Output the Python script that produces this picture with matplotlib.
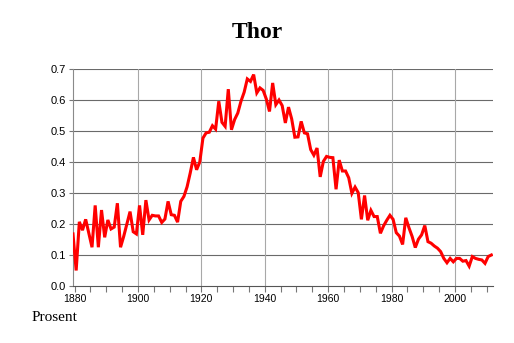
import numpy as np
import matplotlib
matplotlib.use("Agg")
import matplotlib.pyplot as plt
from matplotlib.ticker import MultipleLocator

# Share of name bearers per year (percent)
years = np.arange(1879, 2012)
share = [
    0.168, 0.050, 0.207, 0.180, 0.215, 0.170, 0.125, 0.260, 0.125, 0.245,
    0.157, 0.213, 0.184, 0.190, 0.267, 0.125, 0.160, 0.200, 0.240, 0.175,
    0.168, 0.260, 0.165, 0.277, 0.213, 0.228, 0.226, 0.226, 0.205, 0.216,
    0.273, 0.230, 0.228, 0.206, 0.273, 0.289, 0.320, 0.365, 0.415, 0.375,
    0.400, 0.477, 0.494, 0.496, 0.517, 0.506, 0.596, 0.528, 0.515, 0.635,
    0.504, 0.537, 0.558, 0.596, 0.625, 0.668, 0.660, 0.682, 0.623, 0.639,
    0.631, 0.603, 0.563, 0.655, 0.585, 0.600, 0.582, 0.526, 0.577, 0.539,
    0.480, 0.481, 0.531, 0.494, 0.491, 0.440, 0.422, 0.445, 0.352, 0.402,
    0.418, 0.415, 0.414, 0.312, 0.406, 0.371, 0.371, 0.349, 0.299, 0.319,
    0.301, 0.215, 0.292, 0.212, 0.244, 0.224, 0.224, 0.170, 0.194, 0.212,
    0.228, 0.215, 0.172, 0.161, 0.134, 0.220, 0.188, 0.160, 0.124, 0.151,
    0.165, 0.195, 0.143, 0.138, 0.129, 0.122, 0.111, 0.089, 0.075, 0.089,
    0.078, 0.089, 0.089, 0.080, 0.082, 0.064, 0.095, 0.089, 0.086, 0.084,
    0.073, 0.095, 0.100,
]
x_ticks = [1880, 1900, 1920, 1940, 1960, 1980, 2000]
y_ticks = [0.0, 0.1, 0.2, 0.3, 0.4, 0.5, 0.6, 0.7]

fig = plt.figure(figsize=(5.14, 3.43), dpi=100)
ax = fig.add_axes([0.1414, 0.1662, 0.8176, 0.6326])

# yearly values sit in the middle of each year
ax.plot(years + 0.5, share, color="#ff0000", lw=2.2, solid_joinstyle="miter", zorder=3)

ax.set_xlim(1879.4, 2012)
ax.set_ylim(0, 0.7)
ax.set_xticks(x_ticks)
ax.xaxis.set_minor_locator(MultipleLocator(5))
ax.set_yticks(y_ticks)
ax.set_yticklabels([f"{v:.1f}" for v in y_ticks])

for v in y_ticks[1:]:
    ax.axhline(v, color="#6a6a6a", lw=0.8, zorder=1)
for v in x_ticks[1:]:
    ax.axvline(v, color="#a8a8a8", lw=0.8, zorder=1)

for s in ("top", "right"):
    ax.spines[s].set_visible(False)
ax.spines["left"].set_color("#8a8a8a")
ax.spines["left"].set_linewidth(0.8)
ax.spines["bottom"].set_color("#555555")
ax.spines["bottom"].set_linewidth(0.8)

ax.tick_params(axis="x", which="both", length=4, width=0.8, color="#777777",
               labelsize=7.5, pad=2)
ax.tick_params(axis="y", length=3, width=0.8, color="#777777", labelsize=8, pad=2)
for lab in ax.get_xticklabels() + ax.get_yticklabels():
    lab.set_family("Liberation Sans")

fig.text(0.5, 0.905, "Thor", ha="center", va="center", fontsize=17,
         fontweight="bold", family="Liberation Serif")
fig.text(0.062, 0.073, "Prosent", ha="left", va="center", fontsize=11,
         family="Liberation Serif")

fig.savefig("out.png", dpi=100)
